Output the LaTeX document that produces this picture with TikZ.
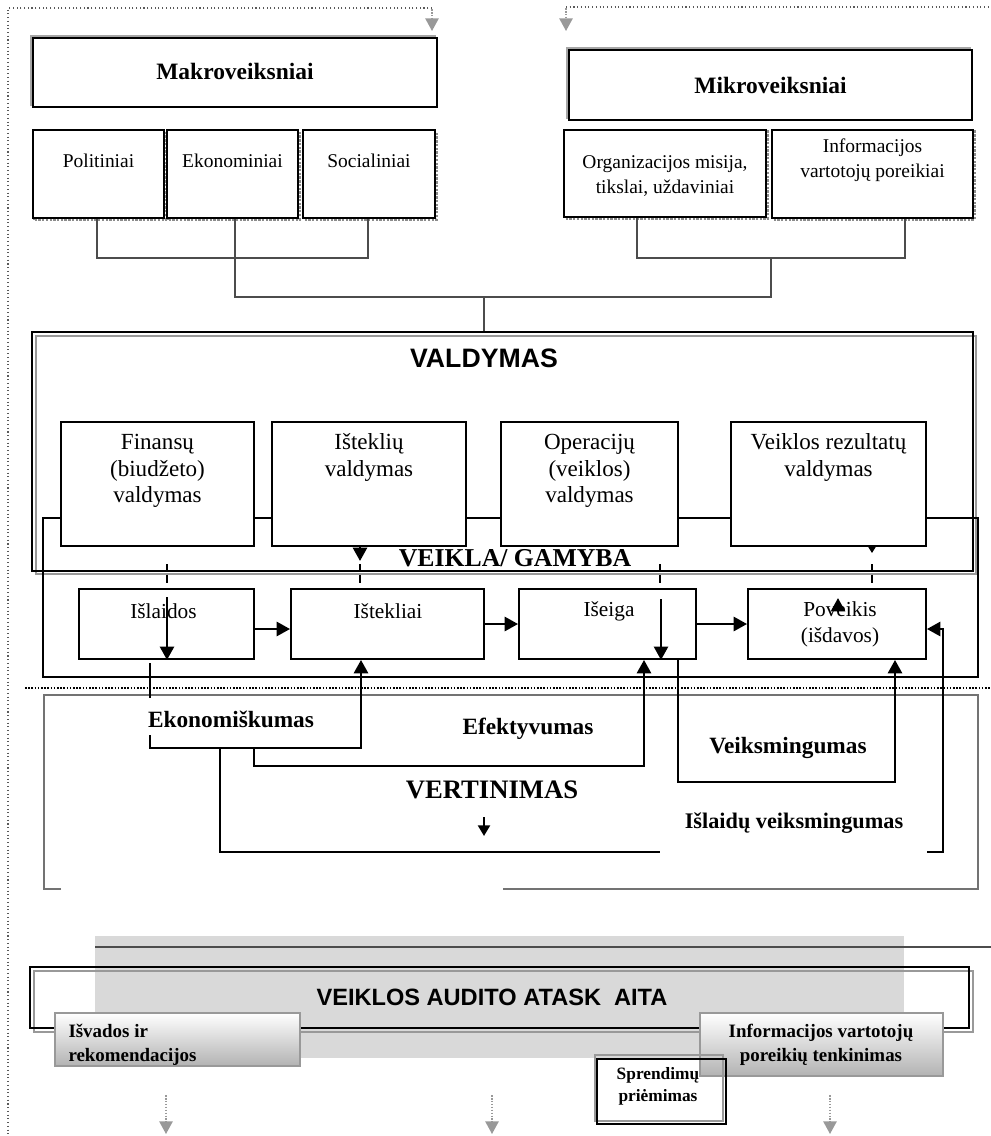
\documentclass[tikz,border=0pt]{standalone}
\usepackage{fontspec}
\setmainfont{Liberation Serif}
\setsansfont{Liberation Sans}
\usetikzlibrary{arrows.meta,calc}
\tikzset{every picture/.style={line width=0.75pt}}
\tikzset{
  boxsize/.style 2 args={minimum width=#1*0.75pt, minimum height=#2*0.75pt},
  factorbox/.style={draw, line width=1.3pt, fill=white, inner sep=0pt,
    preaction={draw=black!45, densely dotted, line width=1.8pt,
      transform canvas={shift={(1.2pt,-1.2pt)}}}},
  headbox/.style={draw, line width=1.3pt, fill=white, inner sep=0pt,
    preaction={draw=black!35, line width=1.3pt,
      transform canvas={shift={(-1.5pt,1.5pt)}}}},
  mgmtbox/.style={draw, line width=1.6pt, fill=white, inner sep=0pt},
  stagebox/.style={draw, line width=1.4pt, fill=white, inner sep=0pt},
  frame/.style={draw, line width=1.2pt, inner sep=0pt},
  gradbox/.style={draw=black!40, line width=1.2pt, top color=white, bottom color=black!30, inner sep=0pt},
  tree/.style={draw=black!70, line width=1.2pt},
  link/.style={line width=1.6pt},
  tick/.style={line width=1pt, dash pattern=on 6pt off 2pt},
  arr/.style={line width=1.9pt, -{Triangle[width=10.5pt,length=10pt]}},
  guide/.style={black!65, line width=0.8pt, dotted},
  flowarr/.style={black!40, line width=1.2pt, densely dotted, -{Triangle[width=10pt,length=9.5pt]}},
  headtext/.style={inner sep=0pt, align=center, font=\fontsize{17.6}{21}\selectfont\bfseries},
  factortext/.style={inner sep=0pt, align=center, font=\fontsize{14.6}{18.5}\selectfont},
  mgmttext/.style={inner sep=0pt, align=center, font=\fontsize{17.3}{20}\selectfont},
  stagetext/.style={inner sep=0pt, align=center, font=\fontsize{16}{20}\selectfont},
  evaltext/.style={inner sep=0pt, align=center, font=\fontsize{17.5}{21}\selectfont\bfseries},
  titletext/.style={inner sep=0pt, align=center, font=\fontsize{20}{24}\selectfont\bfseries},
  sanstitle/.style={inner sep=0pt, align=center, font=\sffamily\fontsize{20}{24}\selectfont\bfseries},
  reporttext/.style={inner sep=0pt, align=center, font=\sffamily\fontsize{17.7}{21}\selectfont\bfseries},
  sidetext/.style={inner sep=0pt, align=center, font=\fontsize{14.2}{18}\selectfont\bfseries},
}

\begin{document}
\begin{tikzpicture}[x=0.75pt,y=0.75pt,yscale=-1,xscale=1]
\useasboundingbox (0,0) rectangle (991,1136);

% outer flow guide
\draw[guide] (432,8) -- (8,8) -- (8,1136);
\draw[guide] (566,7) -- (991,7);
\draw[flowarr] (432,9) -- (432,31);
\draw[flowarr] (566,8) -- (566,31);

% macro and micro factors
\node[headbox, boxsize={404}{69}] (makro) at (235,72.5) {};
\node[headtext] (makroT) at (235,71) {Makroveiksniai};
\node[headbox, boxsize={403}{70}] (mikro) at (770.5,85) {};
\node[headtext] (mikroT) at (770.5,85) {Mikroveiksniai};

\node[factorbox, boxsize={131}{88}] (polit) at (98.5,174) {};
\node[factortext] (politT) at (98.5,161) {Politiniai};
\node[factorbox, boxsize={131}{88}] (ekon) at (232.5,174) {};
\node[factortext] (ekonT) at (232.5,161) {Ekonominiai};
\node[factorbox, boxsize={132}{88}] (social) at (369,174) {};
\node[factortext] (socialT) at (369,161) {Socialiniai};
\node[factorbox, boxsize={202}{87}] (org) at (665,173.5) {};
\node[factortext] (orgT) at (665,176) {Organizacijos misija,\\tikslai, uždaviniai};
\node[factorbox, boxsize={201}{88}] (info) at (872.5,174) {};
\node[factortext] (infoT) at (872.5,160) {Informacijos\\vartotojų poreikiai};

% joining tree
\coordinate (joinR) at (771,258);
\coordinate (joinC) at (484,297);
\draw[tree] (polit.south -| 97,0) -- (97,258) -| (social.south -| 368,0);
\draw[tree] (ekon.south -| 235,0) -- (235,297) -| (joinR);
\draw[tree] (org.south -| 637,0) -- (637,258) -| (info.south -| 905,0);

% management
\draw[black!40, line width=1.2pt] (36,336) rectangle (976,574);
\node[frame, boxsize={941}{239}] (valdymas) at (502.5,451.5) {};
\draw[tree] (joinC) -- (joinC |- valdymas.north);
\node[sanstitle] (valdymasT) at (484,358) {VALDYMAS};

\node[frame, line width=1.3pt, boxsize={935}{159}] (veikla) at (510.5,597.5) {};
\node[titletext, font=\fontsize{19.3}{23}\selectfont\bfseries] (veiklaT) at (515,558) {VEIKLA/ GAMYBA};

\node[mgmtbox, boxsize={193}{124}] (finval) at (157.5,484) {};
\node[mgmttext] (finvalT) at (157.5,471) {Finansų\\(biudžeto)\\valdymas};
\node[mgmtbox, boxsize={194}{124}] (istval) at (369,484) {};
\node[mgmttext] (istvalT) at (369,457.5) {Išteklių\\valdymas};
\node[mgmtbox, boxsize={177}{124}] (operval) at (589.5,484) {};
\node[mgmttext] (opervalT) at (589.5,471) {Operacijų\\(veiklos)\\valdymas};
\node[mgmtbox, boxsize={195}{124}] (rezval) at (828.5,484) {};
\node[mgmttext] (rezvalT) at (828.5,457.5) {Veiklos rezultatų\\valdymas};

% activity stages
\node[stagebox, boxsize={175}{70}] (islaidos) at (166.5,624) {};
\node[stagetext] (islaidosT) at (163.5,611) {Išlaidos};
\node[stagebox, boxsize={193}{70}] (istekliai) at (387.5,624) {};
\node[stagetext] (isteklaiT) at (388,611) {Ištekliai};
\node[stagebox, boxsize={177}{70}] (iseiga) at (607.5,624) {};
\node[stagetext] (iseigaT) at (609,611) {Išeiga};
\node[stagebox, boxsize={178}{70}] (poveikis) at (837,624) {};
\node[stagetext] (poveikisT) at (840,624.5) {Poveikis\\(išdavos)};

\foreach \tx in {167,360,660,872}
  \draw[tick] (\tx,564) -- (\tx,583);
\draw[arr] (istval.south -| 360,0) -- (360,561);
\draw[line width=0.8pt, -{Triangle[width=6pt,length=5pt]}] (rezval.south -| 872,0) -- (872,553);

\draw[arr] ($(islaidos.east)+(0,5)$) -- ($(istekliai.west)+(0,5)$);
\draw[arr] (istekliai.east) -- (iseiga.west);
\draw[arr] (iseiga.east) -- (poveikis.west);
\draw[arr] (167,597) -- (islaidos.south -| 167,0);
\draw[arr] (661,599) -- (iseiga.south -| 661,0);
\draw[arr] (838,612) -- (838,598);

% evaluation
\draw[line width=1.6pt, dash pattern=on 1.2pt off 1.2pt] (25,688) -- (991,688);
\draw[black!55, line width=1pt] (61,889) -- (44,889) -- (44,695) -- (978,695) -- (978,889) -- (503,889);

\draw[link] (150,663) -- (150,698);
\draw[arr] (150,735) -- (150,748) -- (361,748) -- (istekliai.south -| 361,0);
\draw[arr] (254,748) -- (254,766) -- (644,766) -- (iseiga.south -| 644,0);
\draw[arr] (iseiga.south -| 678,0) -- (678,782) -- (895,782) -- (poveikis.south -| 895,0);
\draw[link] (220,748) -- (220,852) -- (660,852);
\draw[arr] (927,852) -- (943,852) -- (943,629) -- (poveikis.east |- 0,629);

\node[evaltext] (ekonomT) at (231,719) {Ekonomiškumas};
\node[evaltext] (efektT) at (528,729) {Efektyvumas};
\node[evaltext] (veiksmT) at (788,748) {Veiksmingumas};
\node[titletext] (vertT) at (492,790) {VERTINIMAS};
\draw[line width=1.6pt, -{Triangle[width=9pt,length=8pt]}] (484,817) -- (484,836);
\node[evaltext, font=\fontsize{16.7}{20}\selectfont\bfseries] (islveiksmT) at (794,823) {Išlaidų veiksmingumas};

% audit report
\fill[black!15] (95,936) rectangle (904,1058);
\draw[black!70, line width=1.3pt] (95,947) -- (991,947);
\draw[black!40, line width=1.3pt] (34,971) rectangle (973,1032);
\node[frame, boxsize={939}{61}] (ataskaita) at (499.5,997.5) {};
\node[reporttext] (ataskaitaT) at (492,997) {VEIKLOS AUDITO ATASK~~AITA};

\node[gradbox, boxsize={245}{53}] (isvados) at (177.5,1039.5) {};
\node[sidetext, anchor=west, align=left] (isvadosT) at (68,1044.5) {Išvados ir\\rekomendacijos};
\node[gradbox, boxsize={243}{63}] (vartot) at (821.5,1044.5) {};
\node[sidetext] (vartotT) at (821,1045) {Informacijos vartotojų\\poreikių tenkinimas};
\draw[black!40, line width=1.3pt] (595,1055) rectangle (723,1121);
\node[frame, boxsize={129}{65}] (sprend) at (661.5,1091.5) {};
\node[sidetext, font=\fontsize{13}{16.5}\selectfont\bfseries] (sprendT) at (658,1086) {Sprendimų\\priėmimas};

\foreach \ax in {166,492,830}
  \draw[flowarr] (\ax,1095) -- (\ax,1134);

\end{tikzpicture}
\end{document}
